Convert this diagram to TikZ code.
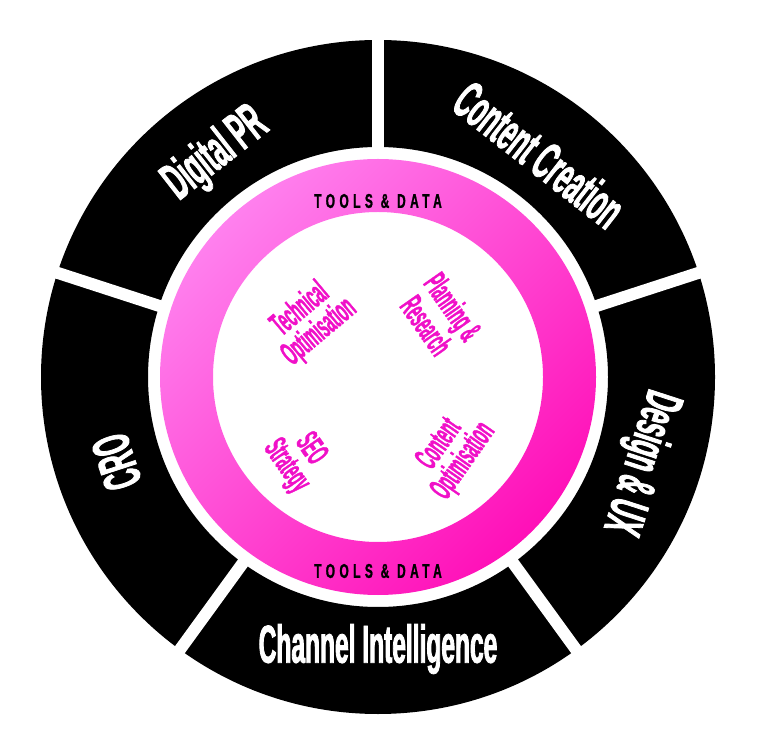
\documentclass[tikz,border=0pt]{standalone}
\usepackage{fontspec}
\usetikzlibrary{calc}
\newfontfamily\cond[FakeStretch=0.46,FakeBold=1.5]{Liberation Sans Bold}
\newfontfamily\condi[FakeStretch=0.42,FakeBold=1]{Liberation Sans Bold}
\newfontfamily\condt[FakeStretch=0.6,LetterSpace=22,FakeBold=1]{Liberation Sans Bold}
\definecolor{pinkA}{HTML}{FF80EE}
\definecolor{pinkB}{HTML}{FF10B8}
\definecolor{mag}{HTML}{F010C8}
\begin{document}
\begin{tikzpicture}[x=0.75pt,y=0.75pt,
  outer/.style={text=white,font=\cond\fontsize{40}{40}\selectfont,inner sep=0},
  inner/.style={text=mag,font=\condi\fontsize{25}{22}\selectfont,align=center,inner sep=0},
  tools/.style={text=black,font=\condt\fontsize{15}{15}\selectfont,inner sep=0},
  gap/.style={white,line width=9pt}]
\useasboundingbox (0,0) rectangle (759,753);
\coordinate (c) at (378,376);
\fill[black,even odd rule] (c) circle[radius=337] (c) circle[radius=230];
\foreach \a in {90,18,-54,-126,162}
  \draw[gap] ($(c)+(\a:220)$) -- ($(c)+(\a:350)$);
\shade[even odd rule,left color=pinkA,right color=pinkB,shading angle=45] (c) circle[radius=218] (c) circle[radius=165];
\node[outer,rotate=38] (dpr) at ($(c)+(126:275)$) {Digital PR};
\node[outer,rotate=-38] (cc) at ($(c)+(54:275)$) {Content Creation};
\node[outer,rotate=-108] (dux) at ($(c)+(-18:275)$) {Design \& UX};
\node[outer] (ci) at ($(c)+(-90:272)$) {Channel Intelligence};
\node[outer,rotate=108] (cro) at ($(c)+(198:275)$) {CRO};
\node[tools] (t1) at ($(c)+(90:176)$) {TOOLS \& DATA};
\node[tools] (t2) at ($(c)+(-90:194)$) {TOOLS \& DATA};
\node[inner,rotate=40] (to) at (310,432) {Technical\\Optimisation};
\node[inner,rotate=-55] (pr) at (440,437) {Planning \&\\Research};
\node[inner,rotate=-55] (seo) at (298,295) {SEO\\Strategy};
\node[inner,rotate=55] (co) at (452,300) {Content\\Optimisation};
\end{tikzpicture}
\end{document}
